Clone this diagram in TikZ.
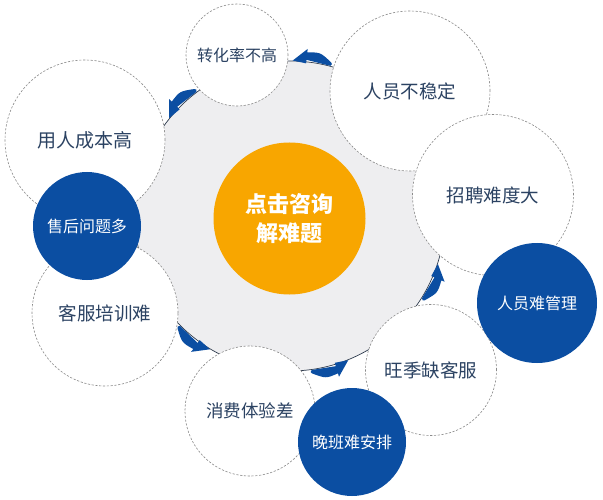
\documentclass[tikz,border=0pt]{standalone}
\usepackage{fontspec}
\setmainfont{Noto Sans CJK SC}
\definecolor{ringgray}{HTML}{EEEEF0}
\definecolor{ringline}{HTML}{2E3B4E}
\definecolor{navytext}{HTML}{2B4262}
\definecolor{deepblue}{HTML}{0B4EA2}
\definecolor{orangec}{HTML}{F8A600}
\definecolor{dashgray}{HTML}{8A8A8A}
\tikzset{
  whitec/.style={circle, fill=white, draw=dashgray, line width=0.6pt, dash pattern=on 2.2pt off 1.6pt, inner sep=0pt, text=navytext, align=center},
  bluec/.style={circle, fill=deepblue, inner sep=0pt, text=white, align=center},
  centerc/.style={circle, fill=orangec, inner sep=0pt, text=white, align=center, font=\bfseries\fontsize{22}{30}\selectfont},
  swooshc/.style={fill=deepblue},
}
\begin{document}
\begin{tikzpicture}[x=1pt,y=-1pt]
\useasboundingbox (0,0) rectangle (603,500);
\fill[white] (0,0) rectangle (603,500);
% ring
\node[circle, fill=ringgray, draw=ringline, line width=0.7pt, minimum size=310pt, inner sep=0pt] (ring) at (290,216) {};
\node[centerc, minimum size=152pt] (center) at (289.5,218.5) {点击咨询\\[-1pt]解难题};
% white circles
\node[whitec, minimum size=102pt, font=\fontsize{16}{18}\selectfont] (zhl) at (237,55) {转化率不高};
\node[whitec, minimum size=160pt, font=\fontsize{19}{21}\selectfont] (yrcb) at (85,140) {用人成本高};
\node[whitec, minimum size=160pt, font=\fontsize{18.5}{21}\selectfont] (rybw) at (410,91) {人员不稳定};
\node[whitec, minimum size=161pt, font=\fontsize{18.5}{21}\selectfont] (zpnd) at (493,195) {招聘难度大};
\node[whitec, minimum size=146pt, font=\fontsize{18.5}{21}\selectfont] (kfpx) at (105,313) {客服培训难};
\node[whitec, minimum size=130pt, font=\fontsize{17.5}{20}\selectfont] (xfty) at (250,411) {消费体验差};
\node[whitec, minimum size=131pt, font=\fontsize{18.5}{21}\selectfont] (wjqk) at (431,370) {旺季缺客服};
% blue circles
\node[bluec, minimum size=108pt, font=\fontsize{16}{18}\selectfont] (shwt) at (87,226) {售后问题多};
\node[bluec, minimum size=120pt, font=\fontsize{16}{18}\selectfont] (rygl) at (537,303) {人员难管理};
\node[bluec, minimum size=108pt, font=\fontsize{16}{18}\selectfont] (wbap) at (352,442) {晚班难安排};
% swoosh arrows on the ring
\begin{scope}[shift={(ring.center)}]
\foreach \a/\b in {285/271, 233/219, 135/121, 82/68, 32/18} {
  \pgfmathsetmacro\h{\b+0.36*(\a-\b)}
  \pgfmathsetmacro\m{(\a+\h)/2}
  \fill[swooshc] (\a:155.5) .. controls (\m:156.5) .. (\h:157)
    -- (\h:153.5) -- (\b:155.5) -- (\h:168) -- (\h:164.5)
    .. controls (\m:166.5) .. (\a:159) .. controls (\a+0.6:157.5) .. (\a:155.5) -- cycle;
}
\end{scope}
\end{tikzpicture}
\end{document}
